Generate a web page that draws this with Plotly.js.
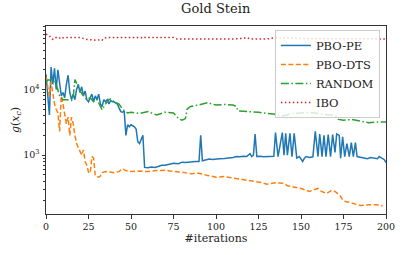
<!DOCTYPE html>
<html>
<head>
<meta charset="utf-8">
<script src="https://cdn.plot.ly/plotly-3.0.1.min.js"></script>
<style>html,body{margin:0;padding:0;background:#fff}#chart{width:407px;height:255px}</style>
</head>
<body>
<div id="chart"></div>
<script>
// ---- data ----
const peX = [0,1,2,3,4,5,6,7,8,9,10,11,12,13,14,15,16,17,18,19,20,21,22,23,24,25,26,27,28,29,30,31,32,33,34,35,36,37,38,39,40,41,42,43,44,45,46,47,48,49,50,51,52,53,54,55,56,57,58,
  60,62,64,66,68,70,72,75,78,80,82,85,88,90,91,92,94,96,98,100,102,105,108,110,112,114,116,118,120,121,122,123,124,126,128,130,132,134,
  135,136.5,139,140,141,142,143.5,144.7,146,147.5,149,151,152,153,155,157,158.4,160,161,162.4,163.5,164.7,166,167.4,168.6,170,171,172.5,173.3,174.5,175.7,177,178.4,179.6,180.8,182,183,185,187,189,191,193,195,196,198,199,200];
const peY = [17000,9000,4100,22000,12000,21000,10000,20000,12000,8000,9000,7500,12000,16500,9000,7000,8500,7000,10000,12000,9000,11000,8000,9500,7000,6500,7500,8500,6500,8000,7000,8500,6000,5500,7000,6500,7000,6000,6800,6500,6500,6300,6000,5200,4600,4500,4700,2000,2900,2700,2900,2800,2700,2500,1600,1500,1800,2000,650,
  640,660,650,670,700,700,720,750,740,780,770,790,800,800,2000,820,850,870,860,880,880,890,900,920,950,940,960,950,1050,950,1000,2100,950,960,940,950,970,960,
  2200,950,2200,1000,2150,1000,2150,950,2150,900,950,800,900,950,920,940,2300,950,2100,950,2000,950,2050,950,2050,1100,2100,2000,900,1900,950,1500,950,1550,950,1550,950,920,900,880,920,900,880,950,880,850,770];

const dtsX = [0,1,2,3,4,5,6,7,8,9,10,11,12,13,14,15,16,17,18,19,20,21,22,23,24,25,26,27,28,29,30,31,32,33,35,37,40,43,45,47,50,55,60,65,70,73,76,80,85,90,95,100,105,110,115,120,123,127,130,135,140,142,145,150,155,158,160,162,165,168,170,173,175,177,180,185,190,195,198,200];
const dtsY = [15500,11000,8000,13000,9000,6000,5000,4400,2300,8000,6000,4000,3000,3800,2000,3800,3000,2000,1500,1300,1100,1000,1200,800,700,550,530,950,900,480,470,460,480,540,560,550,540,560,620,580,560,570,560,580,590,570,560,550,520,530,490,460,470,450,430,410,400,380,360,380,370,340,330,310,280,300,310,280,260,290,280,240,200,195,185,170,175,175,168];

const rndX = [0,1,3,5,6,8,10,12,15,16,17,18,19,20,22,24,26,28,30,32,33,35,37,38,40,43,45,48,50,55,60,65,70,75,78,80,82,83,85,90,95,100,105,110,112,113,120,125,130,135,138,140,145,150,155,160,165,170,172,175,180,185,190,195,200];
const rndY = [13000,14000,14000,14000,12000,8000,7000,7000,6800,7500,14200,12500,11000,9500,8000,7000,7500,6500,7000,5500,4900,6000,7000,7200,6500,6000,5000,4400,4500,4300,4600,4100,4500,4400,3600,3400,3600,5000,5500,5800,6300,5800,5900,5800,5500,4700,4600,4500,4300,4200,3900,4000,4300,4400,4500,4300,4100,4000,3500,3400,3500,3300,3100,3200,3200];

const iboX = [0,1,2,3,4,5,6,7,8,9,10,12,20,22,24,28,30,32,33,34,36,50,56,57,58,75,77,110,116,118,120,130,133,136,138,142,150,160,170,180,190,200];
const iboY = [70000,68000,66000,60000,58000,59000,62000,60000,61000,59000,61500,62000,62000,60000,58000,57000,56000,58000,56500,60500,62000,62000,62000,60000,62000,62000,59000,59000,60000,62000,59000,59000,60500,62000,60000,61000,60000,60000,59500,59000,59000,59000];

const seriesNames = ['PBO-PE','PBO-DTS','RANDOM','IBO'];
const xTickVals = [0,25,50,75,100,125,150,175,200];
const yTickVals = [1000,10000];
const yTickText = ['10<sup>3</sup>','10<sup>4</sup>'];
const yMinorVals = [200,300,400,500,600,700,800,900,2000,3000,4000,5000,6000,7000,8000,9000,20000,30000,40000,50000,60000,70000,80000,90000];

const font = 'DejaVu Serif';
const traces = [
  {x: peX, y: peY, name: seriesNames[0], mode:'lines', line:{color:'#1f77b4', width:1.5}},
  {x: dtsX, y: dtsY, name: seriesNames[1], mode:'lines', line:{color:'#ff7f0e', width:1.5, dash:'5px,2.5px'}},
  {x: rndX, y: rndY, name: seriesNames[2], mode:'lines', line:{color:'#2ca02c', width:1.5, dash:'8px,2.5px,1.5px,2.5px'}},
  {x: iboX, y: iboY, name: seriesNames[3], mode:'lines', line:{color:'#d62728', width:1.5, dash:'1.5px,2.5px'}}
];
const layout = {
  width:407, height:255,
  margin:{l:46, r:21, t:26, b:41},
  paper_bgcolor:'#fff', plot_bgcolor:'#fff',
  font:{family:font, size:10, color:'#222'},
  title:{text:'Gold Stein', font:{family:font, size:13, color:'#222'}, x:0.53, xanchor:'center', y:0.985, yanchor:'top'},
  showlegend:true,
  legend:{x:0.982, xanchor:'right', y:0.979, yanchor:'top', bgcolor:'rgba(255,255,255,0.8)', bordercolor:'#ccc', borderwidth:1, font:{family:font, size:11.5, color:'#222'}, tracegroupgap:0},
  xaxis:{range:[0,200], tickvals:xTickVals, ticks:'outside', ticklen:3.5, tickcolor:'#333', showgrid:false, zeroline:false, showline:true, mirror:true, linecolor:'#333', linewidth:1,
    title:{text:'#iterations', font:{family:font, size:11, color:'#222'}, standoff:2}, tickfont:{family:font, size:9.5, color:'#222'}},
  yaxis:{type:'log', range:[2.102, 4.968], tickvals:yTickVals, ticktext:yTickText, ticks:'outside', ticklen:3.5, tickcolor:'#333', showgrid:false, zeroline:false, showline:true, mirror:true, linecolor:'#333', linewidth:1,
    minor:{tickvals:yMinorVals, ticks:'outside', ticklen:2, tickcolor:'#333', showgrid:false},
    title:{text:'<i>g</i>(<i>x</i><sub><i>c</i></sub>)', font:{family:font, size:11, color:'#222'}, standoff:1}, tickfont:{family:font, size:9.5, color:'#222'}}
};
Plotly.newPlot('chart', traces, layout, {staticPlot:true, displayModeBar:false});
</script>
</body>
</html>
